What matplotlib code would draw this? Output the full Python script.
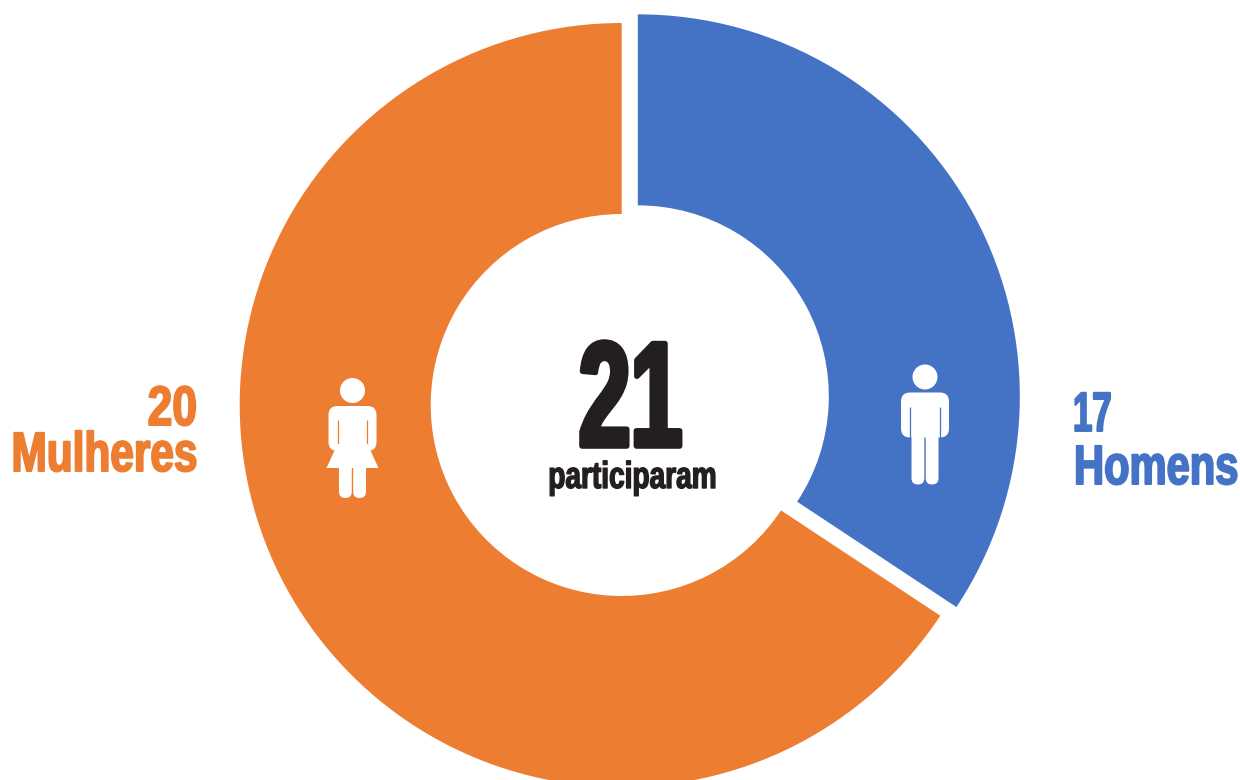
import matplotlib
matplotlib.use("Agg")
import matplotlib.pyplot as plt
from matplotlib.patches import Circle, FancyBboxPatch, Polygon
from matplotlib.patheffects import AbstractPathEffect
from matplotlib.transforms import Affine2D

# Slice shares (the drawn sweep is about 123.4 degrees for Homens)
categories = ["Homens", "Mulheres"]
slice_shares = [34.3, 65.7]
counts = ["17", "20"]
total = "21"
caption = "participaram"
colors = ["#4472C4", "#ED7D31"]
ink = "#231F20"

W, H = 1240, 780
FAMILY = ["Liberation Sans Narrow", "Liberation Sans", "DejaVu Sans"]


class Tall(AbstractPathEffect):
    """Stretches glyphs upward from the baseline and thickens them, to approach
    the heavy condensed reference type."""
    def __init__(self, base_y, sy=1.0, stroke=0.0):
        super().__init__()
        self.b, self.sy, self.stroke = base_y, sy, stroke

    def draw_path(self, renderer, gc, tpath, affine, rgbFace=None):
        t = affine + Affine2D().translate(0, -self.b).scale(1, self.sy).translate(0, self.b)
        gc2 = renderer.new_gc()
        gc2.copy_properties(gc)
        if self.stroke > 0 and rgbFace is not None:
            gc2.set_foreground(rgbFace[:3] if len(rgbFace) > 3 else rgbFace)
            gc2.set_linewidth(self.stroke)
        else:
            gc2.set_linewidth(0)
        renderer.draw_path(gc2, tpath, t, rgbFace)
        gc2.restore()


fig = plt.figure(figsize=(W / 100, H / 100), dpi=100, facecolor="white")
ax = fig.add_axes([0, 0, 1, 1])

wedges, _ = ax.pie(
    slice_shares, colors=colors, startangle=90, counterclock=False,
    center=(621.7, H - 405), radius=382, explode=[18.3, 0],
    wedgeprops=dict(width=191, linewidth=0),
)
ax.set_xlim(0, W)
ax.set_ylim(0, H)
ax.set_aspect("equal")
ax.axis("off")


def Y(py):
    return H - py


def rbox(x0, y0, x1, y1, r, fc, z=3):
    ax.add_patch(FancyBboxPatch((x0 + r, Y(y1) + r), x1 - x0 - 2 * r, y1 - y0 - 2 * r,
                                boxstyle=f"round,pad={r},rounding_size={r}",
                                fc=fc, ec="none", zorder=z))


def figure_icon(cx, top, bg, skirt=False):
    white = "white"
    ax.add_patch(Circle((cx, Y(top + 12.5)), 12.5, fc=white, ec="none", zorder=3))
    # torso and arms
    rbox(cx - 24, top + 28, cx + 24, top + 73, 9, white)
    # legs
    rbox(cx - 13.5, top + 55, cx - 0.7, top + 120, 6.3, white)
    rbox(cx + 0.7, top + 55, cx + 13.5, top + 120, 6.3, white)
    # gaps between arms and body
    for s in (-1, 1):
        ax.plot([cx + s * 14.6] * 2, [Y(top + 42), Y(top + 74)], color=bg, lw=0.9,
                zorder=4, solid_capstyle="butt")
    if skirt:
        ax.add_patch(Polygon([(cx - 15, Y(top + 66)), (cx + 15, Y(top + 66)),
                              (cx + 26, Y(top + 90)), (cx - 26, Y(top + 90))],
                             fc=white, ec="none", zorder=5))


figure_icon(925, 364.5, colors[0])
figure_icon(352.5, 378, colors[1], skirt=True)


def label(x, py, s, size, color, ha, sy, stroke):
    ax.text(x, Y(py), s, fontsize=size, color=color, ha=ha, va="baseline",
            family=FAMILY, fontweight="bold",
            path_effects=[Tall(Y(py), sy, stroke)])


label(630.5, 446, total, 67, ink, "center", 1.60, 4.0)
label(632.5, 488, caption, 20.2, ink, "center", 1.34, 1.0)
label(197, 425, counts[1], 32, colors[1], "right", 1.25, 1.4)
label(198, 471, categories[1], 30.5, colors[1], "right", 1.31, 1.4)
label(1073, 431, counts[0], 25, colors[0], "left", 1.60, 1.4)
label(1074, 484, categories[0], 30, colors[0], "left", 1.33, 1.4)

fig.savefig("out.png", dpi=100, facecolor="white")
